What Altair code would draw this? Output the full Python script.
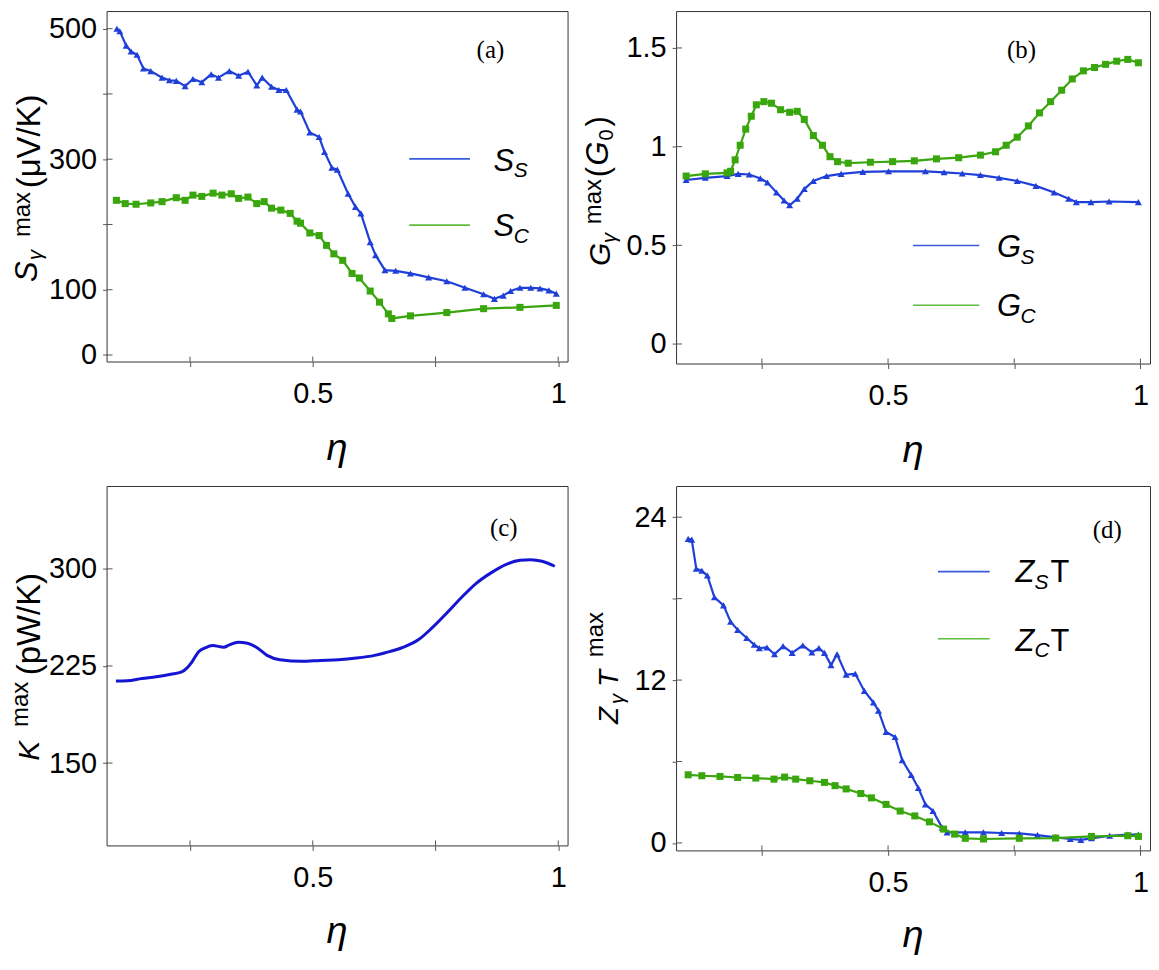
import altair as alt
import pandas as pd

# ---------------- data ----------------
# panel (a)  S_gamma^max (muV/K)
eta_a_S = [0.101,0.107,0.12,0.13,0.142,0.155,0.17,0.193,0.208,0.222,0.24,0.256,0.274,0.293,0.308,
           0.33,0.349,0.368,0.386,0.397,0.416,0.431,0.446,0.468,0.475,0.494,0.513,0.524,0.539,0.55,
           0.572,0.587,0.598,0.617,0.628,0.647,0.669,0.699,0.736,0.773,0.81,0.848,0.87,0.888,0.903,
           0.922,0.944,0.963,0.981,0.996]
S_S = [500,496,474,465,460,439,435,425,421,420,412,423,418,430,425,435,428,434,413,425,411,406,406,
       376,373,341,334,311,287,284,247,227,217,173,153,130,129,125,119,113,103,93,86,91,98,103,103,102,99,94]
eta_a_C = [0.1,0.118,0.14,0.17,0.193,0.222,0.24,0.256,0.274,0.297,0.315,0.334,0.349,0.368,0.386,0.401,
           0.416,0.435,0.454,0.468,0.475,0.494,0.513,0.528,0.543,0.561,0.58,0.595,0.617,0.636,0.654,
           0.661,0.699,0.773,0.848,0.922,0.996]
S_C = [237,232,231,233,235,241,237,245,243,248,245,247,240,242,232,235,225,222,217,205,202,187,183,
       168,155,145,125,118,98,81,63,56,60,65,71,73,76]

# panel (b)  G_gamma^max (G0)
eta_b_S = [0.1,0.138,0.181,0.203,0.225,0.247,0.261,0.279,0.294,0.305,0.32,0.334,0.352,0.378,0.407,
           0.45,0.501,0.574,0.611,0.647,0.683,0.72,0.756,0.793,0.829,0.858,0.873,0.902,0.938,0.996]
G_S = [0.831,0.842,0.851,0.862,0.859,0.839,0.818,0.768,0.727,0.703,0.736,0.785,0.826,0.851,0.862,
       0.872,0.875,0.875,0.87,0.864,0.856,0.842,0.826,0.801,0.768,0.736,0.719,0.719,0.722,0.719]
eta_b_C = [0.1,0.138,0.181,0.188,0.197,0.207,0.218,0.229,0.239,0.254,0.269,0.287,0.305,0.32,0.334,
           0.352,0.37,0.385,0.4,0.421,0.465,0.509,0.552,0.596,0.64,0.683,0.713,0.734,0.756,0.778,
           0.8,0.822,0.844,0.865,0.887,0.909,0.931,0.953,0.975,0.996]
G_C = [0.851,0.862,0.867,0.875,0.933,1.007,1.089,1.154,1.212,1.228,1.22,1.187,1.174,1.179,1.138,
       1.056,1.007,0.949,0.924,0.916,0.921,0.924,0.928,0.938,0.944,0.957,0.974,1.007,1.048,1.105,
       1.171,1.228,1.286,1.343,1.384,1.401,1.417,1.433,1.442,1.425]

# panel (c)  kappa^max (pW/K)
eta_c = [0.099,0.122,0.152,0.181,0.211,0.233,0.244,0.256,0.267,0.281,0.296,0.319,0.33,0.348,0.367,
         0.385,0.407,0.433,0.478,0.515,0.552,0.589,0.626,0.648,0.685,0.715,0.744,0.774,0.804,0.833,
         0.863,0.893,0.922,0.944,0.967,0.993]
K_max = [213.3,213.5,215.3,216.6,218.6,220.4,223.5,229.3,235.7,239.0,240.8,239.5,241.3,243.4,242.6,
         239.5,233.2,229.8,228.6,229.3,229.8,231.1,233.2,235.2,239.5,245.2,254.8,266.3,278.3,288.8,
         296.9,303.3,306.6,307.1,305.9,302.0]

# panel (d)  Z_gamma T^max
eta_d_S = [0.104,0.111,0.12,0.131,0.142,0.156,0.174,0.188,0.202,0.22,0.235,0.245,0.26,0.275,0.292,
           0.31,0.331,0.349,0.363,0.374,0.387,0.399,0.417,0.435,0.453,0.471,0.481,0.496,0.514,0.528,
           0.546,0.56,0.574,0.589,0.607,0.617,0.653,0.689,0.725,0.76,0.796,0.832,0.861,0.882,0.903,
           0.939,0.975,0.996]
ZS_T = [22.4,22.35,20.2,20.05,19.7,18.1,17.5,16.3,15.7,15.1,14.6,14.35,14.4,13.9,14.5,14.0,14.55,
        14.04,14.35,14.0,13.1,13.9,12.4,12.46,11.2,10.35,9.75,8.17,7.8,6.1,5.0,4.05,2.84,2.35,1.14,
        0.78,0.78,0.78,0.73,0.7,0.58,0.41,0.29,0.22,0.34,0.53,0.61,0.61]
eta_d_C = [0.104,0.131,0.167,0.202,0.238,0.274,0.295,0.317,0.345,0.374,0.395,0.417,0.446,0.467,0.496,
           0.524,0.553,0.582,0.61,0.632,0.653,0.689,0.76,0.832,0.903,0.975,0.996]
ZC_T = [5.02,4.95,4.9,4.82,4.78,4.7,4.85,4.7,4.58,4.46,4.22,3.98,3.64,3.32,2.84,2.35,1.99,1.55,1.02,
        0.65,0.34,0.29,0.34,0.36,0.48,0.53,0.48]

# axis ticks
x_ticks = [0.25, 0.5, 0.75, 1.0]
x_domain = [0.08, 1.019]
a_ticks, a_domain = [0, 100, 200, 300, 400, 500], [-10, 527]
b_ticks, b_domain = [0, 0.5, 1, 1.5], [-0.099, 1.687]
c_ticks, c_domain = [150, 225, 300], [86.4, 364]
d_ticks, d_domain = [0, 6, 12, 18, 24], [-0.55, 26.3]

# ---------------- styling ----------------
BLUE = "#1f3fd8"
GREEN = "#3aa60e"
BLUE_LEG = "#3a5ae0"
GREEN_LEG = "#5cbc3c"
KBLUE = "#1414d2"
SANS = "Liberation Sans"
SERIF = "Liberation Serif"
TICKC = "#555555"
TICKFS = 29
ONE = pd.DataFrame({"d": [0]})


def x_enc():
    return alt.X("eta:Q", scale=alt.Scale(domain=x_domain, nice=False, zero=False),
                 axis=alt.Axis(values=x_ticks,
                               labelExpr="datum.value == 0.25 || datum.value == 0.75 ? '' : '' + datum.value",
                               title=None, grid=False, domain=False, tickSize=5, tickColor=TICKC,
                               labelFont=SANS, labelFontSize=TICKFS, labelColor="black",
                               labelPadding=13, labelFlush=False, labelOverlap=False))


def y_enc(ticks, dom, hide):
    expr = "'' + datum.value"
    if hide:
        cond = " || ".join(f"datum.value == {h}" for h in hide)
        expr = f"{cond} ? '' : '' + datum.value"
    return alt.Y("val:Q", scale=alt.Scale(domain=dom, nice=False, zero=False),
                 axis=alt.Axis(values=ticks, labelExpr=expr, title=None, grid=False,
                               domain=False, tickSize=4, tickColor=TICKC, labelFont=SANS,
                               labelFontSize=TICKFS, labelColor="black", labelPadding=6,
                               labelFlush=False, labelOverlap=False))


def txt(s, x, y, size, italic=False, font=SANS, angle=0, align="left"):
    kw = dict(text=s, fontSize=size, font=font, align=align, baseline="alphabetic", color="black")
    if italic:
        kw["fontStyle"] = "italic"
    if angle:
        kw["angle"] = angle
    return alt.Chart(ONE).mark_text(**kw).encode(x=alt.value(x), y=alt.value(y))


def leg_line(x1, x2, y, color):
    return alt.Chart(ONE).mark_rule(color=color, strokeWidth=1.6).encode(
        x=alt.value(x1), x2=alt.value(x2), y=alt.value(y))


def panel(series, yt, ydom, yhide, W, H, deco, eta_y):
    xe = x_enc()
    ye = y_enc(yt, ydom, yhide)
    layers = []
    layers.append(alt.Chart(pd.DataFrame({"eta": x_ticks})).mark_rule(color=TICKC).encode(
        x=xe, y=alt.value(H - 5), y2=alt.value(H)))
    layers.append(alt.Chart(pd.DataFrame({"val": yt})).mark_rule(color=TICKC).encode(
        y=ye, x=alt.value(0), x2=alt.value(6)))
    for eta, vals, color, shape, sw, interp in series:
        df = pd.DataFrame({"eta": eta, "val": vals})
        layers.append(alt.Chart(df).mark_line(color=color, strokeWidth=sw, interpolate=interp).encode(x=xe, y=ye))
        if shape:
            layers.append(alt.Chart(df).mark_point(shape=shape, filled=True, size=50, color=color,
                                                   opacity=1).encode(x=xe, y=ye))
    layers += deco
    layers.append(txt("η", W / 2, H + eta_y, 38, italic=True, align="center"))
    return alt.layer(*layers).properties(width=W, height=H)


# ---------------- panels ----------------
Wa, Ha = 463, 352
pa = panel(
    [(eta_a_S, S_S, BLUE, "triangle-up", 2.2, "linear"),
     (eta_a_C, S_C, GREEN, "square", 2.2, "linear")],
    a_ticks, a_domain, [200, 400], Wa, Ha,
    [txt("(a)", 385.5, 47, 25, font=SERIF, align="center"),
     leg_line(304, 365, 148.5, BLUE_LEG), leg_line(304, 365, 215, GREEN_LEG),
     txt("S", 388.5, 161, 31, italic=True), txt("S", 409, 167, 21, italic=True),
     txt("S", 388.5, 225.7, 31, italic=True), txt("C", 409, 232.5, 21, italic=True),
     txt("S", -70, 272, 31, italic=True, angle=270),
     txt("γ", -64.5, 250, 20, italic=True, angle=270),
     txt("max", -77, 227, 24, angle=270),
     txt("(μV/K)", -67, 178, 33, angle=270)],
    99)

Wb, Hb = 476, 354
pb = panel(
    [(eta_b_S, G_S, BLUE, "triangle-up", 2.2, "linear"),
     (eta_b_C, G_C, GREEN, "square", 2.2, "linear")],
    b_ticks, b_domain, [], Wb, Hb,
    [txt("(b)", 347, 47, 25, font=SERIF, align="center"),
     leg_line(238, 304.5, 235.4, BLUE_LEG), leg_line(238, 304.5, 295.4, GREEN_LEG),
     txt("G", 322.4, 247.4, 31, italic=True), txt("S", 346, 254.3, 21, italic=True),
     txt("G", 322.4, 306, 31, italic=True), txt("C", 346, 313, 21, italic=True),
     txt("G", -66, 256, 30, italic=True, angle=270),
     txt("γ", -60, 233, 20, italic=True, angle=270),
     txt("max", -75, 214, 24, angle=270),
     txt("(", -68.5, 167, 31, angle=270),
     txt("G", -68.5, 155, 31, italic=True, angle=270),
     txt("0", -63, 130, 20, angle=270),
     txt(")", -68.5, 116, 31, angle=270)],
    99)

Wc, Hc = 463, 361
pc = panel(
    [(eta_c, K_max, KBLUE, None, 3, "monotone")],
    c_ticks, c_domain, [], Wc, Hc,
    [txt("(c)", 399, 50, 25, font=SERIF, align="center"),
     txt("K", -68, 276, 30, italic=True, angle=270),
     txt("max", -79, 242, 24, angle=270),
     txt("(pW/K)", -67, 190, 33, angle=270)],
    98)

Wd, Hd = 476, 366
pd_ = panel(
    [(eta_d_S, ZS_T, BLUE, "triangle-up", 2.2, "linear"),
     (eta_d_C, ZC_T, GREEN, "square", 2.2, "linear")],
    d_ticks, d_domain, [6, 18], Wd, Hd,
    [txt("(d)", 433, 52, 25, font=SERIF, align="center"),
     leg_line(263, 315, 86, BLUE_LEG), leg_line(263, 315, 153.5, GREEN_LEG),
     txt("Z", 341, 96.5, 31, italic=True), txt("S", 360, 103, 21, italic=True), txt("T", 376, 96.5, 31),
     txt("Z", 341, 165.5, 31, italic=True), txt("C", 360, 172, 21, italic=True), txt("T", 376, 165.5, 31),
     txt("Z", -58, 239, 28, italic=True, angle=270),
     txt("γ", -52, 219, 20, italic=True, angle=270),
     txt("T", -58, 202, 28, italic=True, angle=270),
     txt("max", -73, 172, 24, angle=270)],
    97)

chart = alt.concat(pa, pb, pc, pd_, columns=2, spacing={"row": 123, "column": 109},
                   bounds="flush").configure_view(
    stroke="#333333", strokeWidth=1).properties(padding=0, background="white")

chart.save("out.html", embed_options={"renderer": "svg", "actions": False})
